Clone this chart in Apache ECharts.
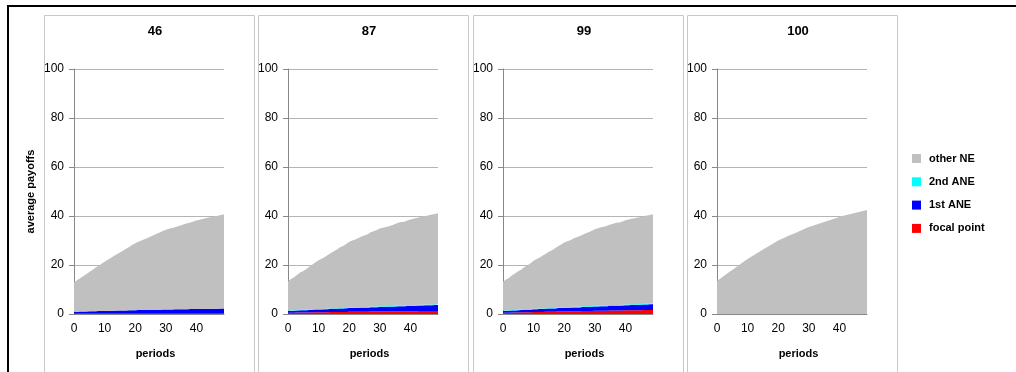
<!DOCTYPE html>
<html>
<head>
<meta charset="utf-8">
<script src="https://cdn.jsdelivr.net/npm/echarts@6/dist/echarts.min.js"></script>
<style>
html,body{margin:0;padding:0;background:#fff;}
#chart{width:1016px;height:372px;}
</style>
</head>
<body>
<div id="chart"></div>
<script>
// ---- data ----
const panelTitles = ['46', '87', '99', '100'];
const seriesNames = ['focal point', '1st ANE', '2nd ANE', 'other NE'];
const seriesColors = ['#ff0000', '#0000ff', '#00ffff', '#c0c0c0'];
const yTicks = [0, 20, 40, 60, 80, 100];
const periods = [];
for (let i = 0; i < 50; i++) periods.push(String(i));

// panel "46"
const focal46 = [0.1,0.1,0.1,0.1,0.1,0.1,0.1,0.1,0.1,0.1, 0.1,0.1,0.1,0.1,0.1,0.1,0.1,0.1,0.1,0.1, 0.1,0.1,0.1,0.1,0.1,0.1,0.1,0.1,0.1,0.1, 0.1,0.1,0.1,0.1,0.1,0.1,0.1,0.1,0.1,0.1, 0.1,0.1,0.1,0.1,0.1,0.1,0.1,0.1,0.1,0.1];
const ane1_46 = [0.8,0.8,0.9,0.9,0.9,1.0,1.0,1.0,1.1,1.1, 1.1,1.2,1.2,1.2,1.3,1.3,1.3,1.3,1.4,1.4, 1.4,1.5,1.5,1.5,1.5,1.6,1.6,1.6,1.6,1.7, 1.7,1.7,1.7,1.8,1.8,1.8,1.8,1.8,1.9,1.9, 1.9,1.9,1.9,2.0,2.0,2.0,2.0,2.0,2.1,2.1];
const ane2_46 = [0.05,0.05,0.05,0.05,0.05,0.05,0.05,0.05,0.05,0.05, 0.05,0.05,0.05,0.05,0.05,0.05,0.05,0.05,0.05,0.05, 0.05,0.05,0.05,0.05,0.05,0.05,0.05,0.05,0.05,0.05, 0.05,0.05,0.05,0.05,0.05,0.05,0.05,0.05,0.05,0.05, 0.05,0.05,0.05,0.05,0.05,0.05,0.05,0.05,0.05,0.05];
const other46 = [11.9,12.8,13.5,14.4,15.2,16.0,16.8,17.7,18.4,19.3, 20.1,20.8,21.5,22.3,22.9,23.7,24.4,25.2,25.8,26.6, 27.3,27.8,28.3,28.9,29.4,29.9,30.4,31.0,31.5,32.0, 32.5,32.9,33.3,33.5,33.9,34.3,34.7,35.1,35.3,35.7, 36.1,36.4,36.7,36.9,37.2,37.4,37.7,38.0,38.2,38.5];

// panel "87"
const focal87 = [0.5,0.5,0.5,0.6,0.6,0.6,0.6,0.6,0.7,0.7, 0.7,0.7,0.7,0.7,0.8,0.8,0.8,0.8,0.8,0.8, 0.9,0.9,0.9,0.9,0.9,0.9,0.9,1.0,1.0,1.0, 1.0,1.0,1.0,1.0,1.0,1.1,1.1,1.1,1.1,1.1, 1.1,1.1,1.1,1.2,1.2,1.2,1.2,1.2,1.2,1.2];
const ane1_87 = [0.7,0.7,0.8,0.8,0.9,0.9,0.9,1.0,1.0,1.1, 1.1,1.1,1.2,1.2,1.3,1.3,1.3,1.4,1.4,1.5, 1.5,1.5,1.6,1.6,1.7,1.7,1.7,1.8,1.8,1.8, 1.9,1.9,1.9,2.0,2.0,2.0,2.1,2.1,2.1,2.2, 2.2,2.2,2.3,2.3,2.3,2.4,2.4,2.4,2.5,2.5];
const ane2_87 = [0.2,0.2,0.2,0.2,0.2,0.2,0.2,0.2,0.2,0.2, 0.2,0.2,0.2,0.2,0.2,0.2,0.2,0.2,0.2,0.2, 0.25,0.25,0.25,0.25,0.25,0.25,0.25,0.25,0.25,0.25, 0.25,0.25,0.25,0.25,0.25,0.3,0.3,0.3,0.3,0.3, 0.3,0.3,0.3,0.3,0.3,0.3,0.3,0.3,0.3,0.3];
const other87 = [12.0,12.9,13.5,14.4,15.2,15.9,16.7,17.6,18.3,19.1, 19.9,20.6,21.2,22.0,22.6,23.3,24.0,24.8,25.4,26.1, 26.8,27.3,27.7,28.3,28.8,29.2,29.7,30.3,30.7,31.2, 31.7,32.1,32.4,32.6,33.0,33.3,33.7,34.1,34.2,34.6, 35.0,35.3,35.5,35.7,36.0,36.1,36.4,36.7,36.8,37.1];

// panel "99"
const focal99 = [0.5,0.5,0.5,0.6,0.6,0.6,0.7,0.7,0.7,0.7, 0.8,0.8,0.8,0.8,0.9,0.9,0.9,0.9,1.0,1.0, 1.0,1.0,1.1,1.1,1.1,1.1,1.2,1.2,1.2,1.2, 1.3,1.3,1.3,1.3,1.3,1.4,1.4,1.4,1.4,1.4, 1.5,1.5,1.5,1.5,1.5,1.5,1.6,1.6,1.6,1.6];
const ane1_99 = [0.7,0.7,0.8,0.8,0.8,0.9,0.9,1.0,1.0,1.0, 1.1,1.1,1.2,1.2,1.2,1.3,1.3,1.3,1.4,1.4, 1.5,1.5,1.5,1.6,1.6,1.6,1.7,1.7,1.7,1.8, 1.8,1.8,1.9,1.9,1.9,2.0,2.0,2.0,2.0,2.1, 2.1,2.1,2.2,2.2,2.2,2.3,2.3,2.3,2.4,2.4];
const ane2_99 = [0.2,0.2,0.2,0.2,0.2,0.2,0.2,0.2,0.2,0.2, 0.2,0.2,0.2,0.2,0.2,0.25,0.25,0.25,0.25,0.25, 0.25,0.25,0.25,0.25,0.25,0.25,0.25,0.25,0.25,0.25, 0.3,0.3,0.3,0.3,0.3,0.3,0.3,0.3,0.3,0.3, 0.3,0.3,0.3,0.3,0.3,0.3,0.3,0.3,0.3,0.3];
const other99 = [11.8,12.7,13.3,14.2,15.0,15.7,16.4,17.3,18.0,18.8, 19.6,20.3,20.9,21.7,22.3,23.0,23.6,24.4,25.0,25.7, 26.4,26.9,27.3,27.9,28.4,28.8,29.2,29.8,30.2,30.7, 31.2,31.6,31.9,32.1,32.5,32.8,33.1,33.5,33.6,34.0, 34.4,34.7,34.9,35.1,35.4,35.5,35.7,36.0,36.1,36.4];

// panel "100"
const focal100 = [0,0,0,0,0,0,0,0,0,0, 0,0,0,0,0,0,0,0,0,0, 0,0,0,0,0,0,0,0,0,0, 0,0,0,0,0,0,0,0,0,0, 0,0,0,0,0,0,0,0,0,0];
const ane1_100 = [0,0,0,0,0,0,0,0,0,0, 0,0,0,0,0,0,0,0,0,0, 0,0,0,0,0,0,0,0,0,0, 0,0,0,0,0,0,0,0,0,0, 0,0,0,0,0,0,0,0,0,0];
const ane2_100 = [0,0,0,0,0,0,0,0,0,0, 0,0,0,0,0,0,0,0,0,0, 0,0,0,0,0,0,0,0,0,0, 0,0,0,0,0,0,0,0,0,0, 0,0,0,0,0,0,0,0,0,0];
const other100 = [13.5,14.4,15.3,16.2,17.1,18.0,18.9,19.8,20.7,21.6, 22.5,23.3,24.0,24.8,25.5,26.3,27.0,27.8,28.5,29.3, 30.0,30.6,31.1,31.7,32.2,32.8,33.3,33.9,34.4,35.0, 35.5,35.9,36.3,36.7,37.1,37.6,38.0,38.4,38.8,39.2, 39.6,40.0,40.3,40.6,40.9,41.2,41.5,41.8,42.1,42.4];

const panelData = [
  [focal46, ane1_46, ane2_46, other46],
  [focal87, ane1_87, ane2_87, other87],
  [focal99, ane1_99, ane2_99, other99],
  [focal100, ane1_100, ane2_100, other100]
];

// ---- layout ----
const FONT = '"Liberation Sans", Arial, sans-serif';
const panelLeft = [44, 258, 473, 687];
const panelW = 210;
const plotOffset = 30;
const plotW = 150;
const plotTop = 69;
const plotH = 245;

const grids = [], xAxes = [], yAxes = [], series = [], titles = [], graphics = [];

graphics.push({
  type: 'rect', shape: {x: 8, y: 6, width: 1200, height: 600},
  style: {fill: 'none', stroke: '#000', lineWidth: 2}, silent: true, z: 0
});

panelLeft.forEach((pl, i) => {
  graphics.push({
    type: 'rect', shape: {x: pl + 0.5, y: 15.5, width: panelW, height: 500},
    style: {fill: 'none', stroke: '#c8c8c8', lineWidth: 1}, silent: true, z: 0
  });
  titles.push({
    text: panelTitles[i], left: pl + 111, top: 25, textAlign: 'center', padding: 0,
    textStyle: {fontFamily: FONT, fontSize: 13, fontWeight: 'bold', color: '#000'}
  });
  grids.push({left: pl + plotOffset, top: plotTop, width: plotW, height: plotH, containLabel: false});
  xAxes.push({
    type: 'category', gridIndex: i, data: periods, boundaryGap: false,
    name: 'periods', nameLocation: 'middle', nameGap: 34,
    nameTextStyle: {fontFamily: FONT, fontSize: 11, fontWeight: 'bold', color: '#000', padding: [0, 0, 0, 13]},
    axisLine: {lineStyle: {color: '#888', width: 1}},
    axisTick: {show: false},
    axisLabel: {interval: 9, fontFamily: FONT, fontSize: 12, color: '#000', margin: 9},
    splitLine: {show: false}
  });
  yAxes.push({
    type: 'value', gridIndex: i, min: yTicks[0], max: yTicks[yTicks.length - 1], interval: 20,
    name: i === 0 ? 'average payoffs' : '', nameLocation: 'middle', nameGap: 38, nameRotate: 90,
    nameTextStyle: {fontFamily: FONT, fontSize: 11, fontWeight: 'bold', color: '#000'},
    axisLine: {show: true, lineStyle: {color: '#888', width: 1}},
    axisTick: {show: true, length: 5, lineStyle: {color: '#888'}},
    axisLabel: {fontFamily: FONT, fontSize: 12, color: '#000', margin: 10},
    splitLine: {show: true, lineStyle: {color: '#b4b4b4', width: 1}}
  });
  seriesNames.forEach((nm, k) => {
    series.push({
      name: nm, type: 'line', xAxisIndex: i, yAxisIndex: i, stack: 'p' + i,
      data: panelData[i][k], symbol: 'none', showSymbol: false,
      lineStyle: {width: 0, color: seriesColors[k]},
      itemStyle: {color: seriesColors[k]},
      areaStyle: {color: seriesColors[k], opacity: 1},
      silent: true, animation: false
    });
  });
});

const chart = echarts.init(document.getElementById('chart'), null, {renderer: 'canvas'});
chart.setOption({
  backgroundColor: '#fff',
  animation: false,
  title: titles,
  grid: grids,
  xAxis: xAxes,
  yAxis: yAxes,
  series: series,
  graphic: graphics,
  legend: {
    data: ['other NE', '2nd ANE', '1st ANE', 'focal point'],
    orient: 'vertical', left: 912, top: 153, padding: 0,
    itemWidth: 9, itemHeight: 9, itemGap: 12.3, icon: 'rect',
    textStyle: {fontFamily: FONT, fontSize: 11, fontWeight: 'bold', color: '#000', padding: [0, 0, 0, 3]},
    selectedMode: false
  }
});
</script>
</body>
</html>
